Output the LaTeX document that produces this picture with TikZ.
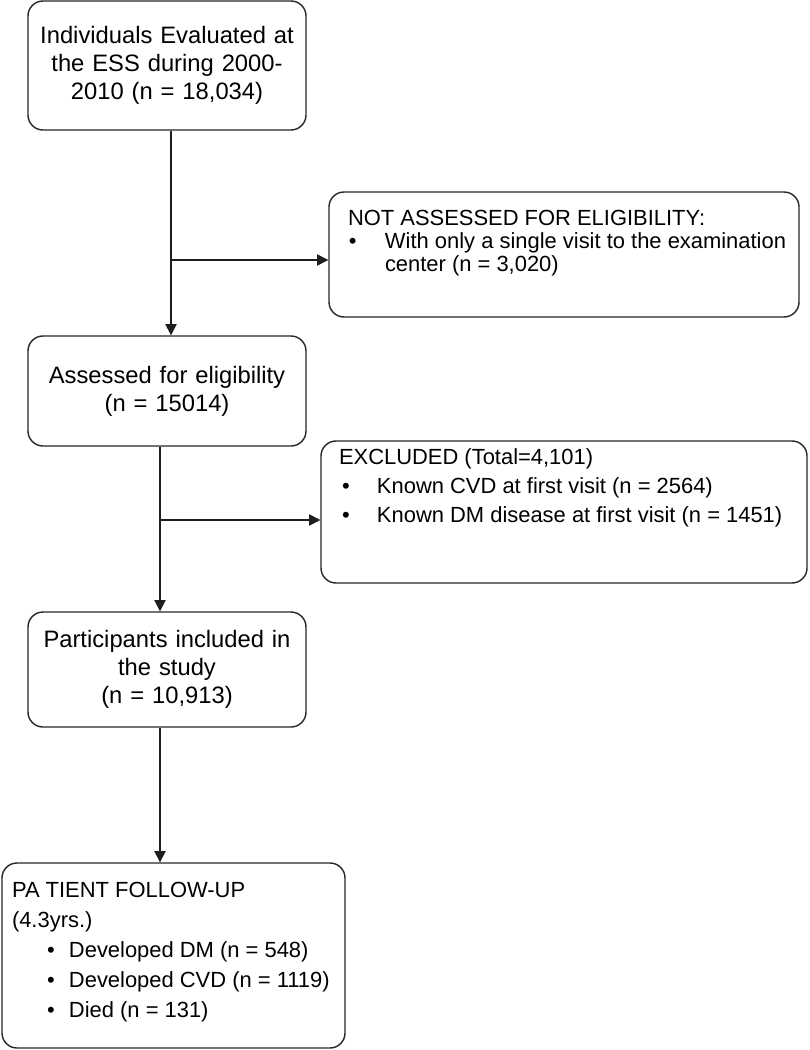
\documentclass[tikz,border=0pt]{standalone}
\usepackage{fontspec}
\setmainfont{Liberation Sans}
\usepackage{tikz}
\usetikzlibrary{arrows.meta,calc,positioning}
\definecolor{boxEdge}{HTML}{262626}
\definecolor{lineCol}{HTML}{1E1E1E}
% text block pinned to the top of a fixed-size box: width, height, left pad, text
\newcommand{\toptext}[4]{\parbox[c][#2][t]{#1}{\leftskip=#3\relax\parindent=0pt\relax #4}}
\newcommand{\blt}[2]{\makebox[#1][l]{\hspace*{#2}\textbullet}}
\tikzset{
  cbox/.style={draw=boxEdge, rounded corners=0.375cm, line width=1pt, align=center,
        inner xsep=0pt, text width=6.95cm, font=\fontsize{16.9}{19.92}\selectfont},
  lbox/.style n args={2}{draw=boxEdge, rounded corners=0.375cm, line width=1pt,
        inner sep=0pt, minimum width=#1, minimum height=#2},
  flow/.style={-{Triangle[length=8pt,width=8pt]}, draw=lineCol, line width=1pt},
}
\begin{document}
\begin{tikzpicture}
  \useasboundingbox (0,0) rectangle (20.225,-26.25);
  % --- main column ---
  \node[cbox, minimum height=3.225cm] (eval) at (4.175,-1.6375)
       {Individuals Evaluated at\\the ESS during 2000-\\2010 (n = 18,034)};
  \node[cbox, minimum height=2.75cm] (asd) at (4.175,-9.775)
       {Assessed for eligibility\\(n = 15014)};
  \node[cbox, minimum height=2.875cm] (incl) at (4.175,-16.7375)
       {Participants included in\\the study\\(n = 10,913)};
  \node[lbox={8.575cm}{4.625cm}] (follow) at (4.3375,-23.8875)
       {\toptext{8.575cm}{4.625cm}{0.25cm}{\fontsize{15.6}{21.48}\selectfont
        \rule{0pt}{0.85cm}PA TIENT FOLLOW-UP\\
        (4.3yrs.)\\
        \blt{1.425cm}{0.875cm}Developed DM (n = 548)\\
        \blt{1.425cm}{0.875cm}Developed CVD (n = 1119)\\
        \blt{1.425cm}{0.875cm}Died (n = 131)}};
  % --- side boxes ---
  \node[lbox={11.75cm}{3.125cm}] (notass) at (14.1,-6.3625)
       {\toptext{11.75cm}{3.125cm}{0.475cm}{\fontsize{15.6}{16.36}\selectfont
        \rule{0pt}{0.85cm}NOT ASSESSED FOR ELIGIBILITY:\\
        \blt{0.925cm}{0.02cm}With only a single visit to the examination\\
        \hspace*{0.925cm}center (n = 3,020)}};
  \node[lbox={12.15cm}{3.55cm}] (excl) at (14.1,-12.8)
       {\toptext{12.15cm}{3.55cm}{0.45cm}{\fontsize{15.6}{20.63}\selectfont
        \rule{0pt}{0.575cm}EXCLUDED (Total=4,101)\\
        \blt{0.95cm}{0.08cm}Known CVD at first visit (n = 2564)\\
        \blt{0.95cm}{0.08cm}Known DM disease at first visit (n = 1451)}};
  % branch points
  \coordinate (j1) at (4.275,-6.5);
  \coordinate (j2) at (4.0,-13.0);
  % connectors
  \draw[flow] (eval.south -| j1) -- (asd.north -| j1);
  \draw[flow] (j1) -- (j1 -| notass.west);
  \draw[flow] (asd.south -| j2) -- (incl.north -| j2);
  \draw[flow] (j2) -- (j2 -| excl.west);
  \draw[flow] (incl.south -| j2) -- (follow.north -| j2);
\end{tikzpicture}
\end{document}
